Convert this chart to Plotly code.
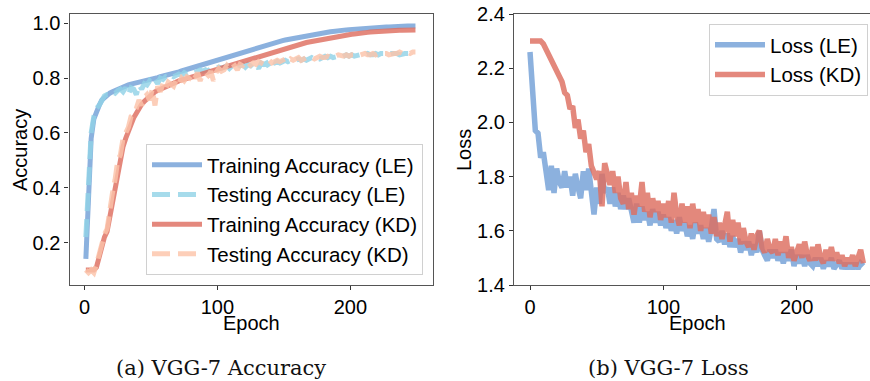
import plotly.graph_objects as go

# ---------------- data ----------------
acc_epochs = list(range(1, 251, 2))
train_le = [0.14, 0.40, 0.58, 0.65, 0.68, 0.70, 0.72, 0.73, 0.74, 0.745,
            0.75, 0.755, 0.76, 0.765, 0.77, 0.772, 0.775, 0.778, 0.78, 0.783,
            0.785, 0.788, 0.79, 0.792, 0.795, 0.797, 0.80, 0.802, 0.805, 0.807,
            0.81, 0.812, 0.815, 0.818, 0.82, 0.823, 0.826, 0.829, 0.832, 0.835,
            0.838, 0.841, 0.844, 0.847, 0.85, 0.853, 0.856, 0.86, 0.863, 0.866,
            0.869, 0.872, 0.875, 0.878, 0.881, 0.884, 0.887, 0.89, 0.893, 0.896,
            0.899, 0.902, 0.905, 0.908, 0.911, 0.913, 0.916, 0.919, 0.922, 0.924,
            0.927, 0.929, 0.932, 0.934, 0.937, 0.939, 0.941, 0.943, 0.945, 0.947,
            0.949, 0.951, 0.953, 0.955, 0.957, 0.959, 0.96, 0.962, 0.963, 0.965,
            0.966, 0.968, 0.969, 0.97, 0.972, 0.973, 0.974, 0.975, 0.976, 0.977,
            0.978, 0.979, 0.98, 0.981, 0.981, 0.982, 0.983, 0.983, 0.984, 0.985,
            0.985, 0.986, 0.986, 0.987, 0.987, 0.988, 0.988, 0.988, 0.989, 0.989,
            0.989, 0.99, 0.99, 0.99, 0.99]
test_le = [0.22, 0.45, 0.60, 0.66, 0.69, 0.70, 0.72, 0.735, 0.74, 0.74,
           0.75, 0.745, 0.755, 0.76, 0.75, 0.765, 0.74, 0.765, 0.76, 0.74,
           0.775, 0.76, 0.78, 0.775, 0.79, 0.78, 0.795, 0.78, 0.80, 0.795,
           0.805, 0.80, 0.81, 0.805, 0.81, 0.815, 0.81, 0.82, 0.815, 0.82,
           0.825, 0.82, 0.825, 0.83, 0.825, 0.83, 0.825, 0.835, 0.83, 0.835,
           0.84, 0.835, 0.84, 0.845, 0.835, 0.845, 0.84, 0.85, 0.845, 0.85,
           0.84, 0.85, 0.845, 0.855, 0.85, 0.835, 0.855, 0.85, 0.855, 0.84,
           0.86, 0.855, 0.86, 0.855, 0.86, 0.865, 0.86, 0.865, 0.86, 0.865,
           0.87, 0.865, 0.87, 0.865, 0.87, 0.875, 0.87, 0.875, 0.87, 0.875,
           0.88, 0.875, 0.88, 0.875, 0.88, 0.88, 0.875, 0.88, 0.885, 0.88,
           0.885, 0.88, 0.885, 0.885, 0.88, 0.885, 0.89, 0.885, 0.885, 0.89,
           0.885, 0.89, 0.89, 0.885, 0.89, 0.89, 0.89, 0.89, 0.885, 0.89,
           0.89, 0.89, 0.89, 0.89, 0.89]
train_kd = [0.10, 0.10, 0.10, 0.10, 0.11, 0.15, 0.19, 0.22, 0.24, 0.29,
            0.34, 0.40, 0.46, 0.51, 0.55, 0.58, 0.61, 0.63, 0.655, 0.675,
            0.69, 0.705, 0.715, 0.725, 0.735, 0.745, 0.75, 0.755, 0.76, 0.765,
            0.77, 0.775, 0.78, 0.783, 0.787, 0.79, 0.793, 0.796, 0.799, 0.802,
            0.805, 0.808, 0.811, 0.814, 0.817, 0.82, 0.823, 0.826, 0.829, 0.832,
            0.835, 0.838, 0.841, 0.844, 0.847, 0.85, 0.853, 0.856, 0.859, 0.862,
            0.865, 0.868, 0.871, 0.874, 0.877, 0.88, 0.883, 0.886, 0.889, 0.892,
            0.895, 0.898, 0.901, 0.904, 0.907, 0.909, 0.912, 0.915, 0.917, 0.92,
            0.922, 0.925, 0.927, 0.93, 0.932, 0.934, 0.936, 0.938, 0.94, 0.942,
            0.944, 0.946, 0.948, 0.95, 0.951, 0.953, 0.955, 0.956, 0.958, 0.959,
            0.96, 0.961, 0.963, 0.964, 0.965, 0.966, 0.967, 0.968, 0.969, 0.97,
            0.97, 0.971, 0.972, 0.972, 0.973, 0.973, 0.974, 0.974, 0.975, 0.975,
            0.975, 0.976, 0.976, 0.976, 0.976]
test_kd = [0.10, 0.09, 0.10, 0.09, 0.12, 0.16, 0.20, 0.23, 0.25, 0.33,
           0.38, 0.43, 0.50, 0.52, 0.58, 0.60, 0.62, 0.66, 0.67, 0.69,
           0.72, 0.70, 0.73, 0.74, 0.72, 0.76, 0.70, 0.77, 0.75, 0.78,
           0.76, 0.785, 0.78, 0.77, 0.795, 0.78, 0.80, 0.79, 0.805, 0.80,
           0.815, 0.80, 0.82, 0.79, 0.815, 0.82, 0.81, 0.825, 0.79, 0.82,
           0.835, 0.825, 0.83, 0.845, 0.83, 0.84, 0.845, 0.83, 0.85, 0.845,
           0.855, 0.84, 0.85, 0.855, 0.85, 0.86, 0.855, 0.85, 0.86, 0.865,
           0.855, 0.86, 0.865, 0.86, 0.865, 0.87, 0.86, 0.87, 0.865, 0.87,
           0.875, 0.865, 0.87, 0.875, 0.87, 0.875, 0.87, 0.875, 0.88, 0.875,
           0.875, 0.88, 0.875, 0.88, 0.88, 0.885, 0.88, 0.88, 0.885, 0.88,
           0.885, 0.885, 0.88, 0.885, 0.885, 0.89, 0.885, 0.885, 0.89, 0.885,
           0.89, 0.89, 0.89, 0.89, 0.885, 0.89, 0.89, 0.89, 0.895, 0.89,
           0.89, 0.895, 0.89, 0.895, 0.895]

loss_epochs = list(range(0, 251, 2))
loss_le = [2.26, 2.08, 1.97, 1.96, 1.87, 1.89, 1.83, 1.75, 1.84, 1.74,
           1.83, 1.78, 1.76, 1.82, 1.76, 1.80, 1.73, 1.81, 1.76, 1.72,
           1.82, 1.75, 1.83, 1.73, 1.66, 1.76, 1.70, 1.81, 1.74, 1.76,
           1.70, 1.76, 1.69, 1.74, 1.68, 1.73, 1.68, 1.72, 1.66, 1.63,
           1.70, 1.63, 1.69, 1.64, 1.67, 1.62, 1.68, 1.63, 1.67, 1.62,
           1.66, 1.61, 1.65, 1.60, 1.64, 1.59, 1.65, 1.60, 1.63, 1.58,
           1.62, 1.57, 1.63, 1.59, 1.62, 1.57, 1.61, 1.56, 1.61, 1.68,
           1.57, 1.56, 1.60, 1.55, 1.59, 1.54, 1.58, 1.54, 1.57, 1.52,
           1.56, 1.53, 1.56, 1.51, 1.55, 1.52, 1.60, 1.53, 1.51, 1.49,
           1.53, 1.50, 1.53, 1.49, 1.52, 1.48, 1.52, 1.49, 1.53, 1.47,
           1.51, 1.48, 1.51, 1.47, 1.51, 1.48, 1.47, 1.50, 1.47, 1.50,
           1.46, 1.49, 1.47, 1.50, 1.46, 1.48, 1.49, 1.46, 1.48, 1.46,
           1.48, 1.46, 1.48, 1.46, 1.48, 1.47]
loss_kd = [2.30, 2.30, 2.30, 2.30, 2.30, 2.29, 2.27, 2.26, 2.23, 2.22,
           2.19, 2.17, 2.15, 2.11, 2.10, 2.05, 2.06, 1.98, 2.01, 1.94,
           1.97, 1.89, 1.92, 1.84, 1.81, 1.79, 1.82, 1.69, 1.85, 1.80,
           1.77, 1.82, 1.74, 1.80, 1.72, 1.70, 1.78, 1.68, 1.74, 1.66,
           1.73, 1.69, 1.78, 1.67, 1.74, 1.65, 1.72, 1.67, 1.71, 1.64,
           1.70, 1.65, 1.71, 1.63, 1.74, 1.66, 1.62, 1.70, 1.63, 1.69,
           1.61, 1.70, 1.63, 1.68, 1.60, 1.67, 1.61, 1.66, 1.59, 1.65,
           1.58, 1.63, 1.57, 1.62, 1.67, 1.56, 1.64, 1.58, 1.63, 1.55,
           1.61, 1.56, 1.54, 1.59, 1.53, 1.58, 1.60, 1.54, 1.52, 1.57,
           1.53, 1.52, 1.57, 1.51, 1.56, 1.52, 1.58, 1.50, 1.54, 1.49,
           1.53, 1.55, 1.50, 1.56, 1.51, 1.49, 1.54, 1.49, 1.55, 1.50,
           1.48, 1.53, 1.49, 1.54, 1.49, 1.52, 1.48, 1.51, 1.47, 1.50,
           1.48, 1.51, 1.47, 1.50, 1.53, 1.48]

acc_ticks = [0.2, 0.4, 0.6, 0.8, 1.0]
loss_ticks = [1.4, 1.6, 1.8, 2.0, 2.2, 2.4]
epoch_ticks = [0, 100, 200]

# ---------------- style ----------------
C_LE = "#73A0D7"
C_LE_T = "#92D3E7"
C_KD = "#DE6E60"
C_KD_T = "#FCC4AA"
FONT = "Liberation Sans, Arial, sans-serif"
FS_TICK = 20
FS_LEG = 20.5
FS_TITLE = 20
W, H = 870, 381

fig = go.Figure()

def add(x, y, name, color, dash, xa, ya, legend, width):
    fig.add_trace(go.Scatter(
        x=x, y=y, name=name, mode="lines",
        line=dict(color=color, width=width, dash=dash),
        opacity=0.82, xaxis=xa, yaxis=ya, legend=legend))

add(acc_epochs, train_le, "Training Accuracy (LE)", C_LE, "solid", "x", "y", "legend", 5)
add(acc_epochs, test_le, "Testing Accuracy (LE)", C_LE_T, "18px,8px", "x", "y", "legend", 5)
add(acc_epochs, train_kd, "Training Accuracy (KD)", C_KD, "solid", "x", "y", "legend", 5)
add(acc_epochs, test_kd, "Testing Accuracy (KD)", C_KD_T, "18px,8px", "x", "y", "legend", 5)
add(loss_epochs, loss_le, "Loss (LE)", C_LE, "solid", "x2", "y2", "legend2", 5.5)
add(loss_epochs, loss_kd, "Loss (KD)", C_KD, "solid", "x2", "y2", "legend2", 5.5)

axis_common = dict(showline=True, linecolor="#555555", linewidth=1.2, mirror=True,
                   ticks="outside", ticklen=4, tickcolor="#333333", showgrid=False,
                   zeroline=False, automargin=False,
                   tickfont=dict(family=FONT, size=FS_TICK, color="black"))

def px_x(p):
    return p / W

def px_y(p):
    return 1 - p / H

leg_common = dict(bgcolor="rgba(255,255,255,0.85)", bordercolor="#d0d0d0", borderwidth=1,
                  font=dict(family=FONT, size=FS_LEG, color="black"),
                  itemwidth=50, traceorder="normal")

fig.update_layout(
    width=W, height=H, autosize=False,
    margin=dict(l=0, r=0, t=0, b=0, pad=0, autoexpand=False),
    plot_bgcolor="white", paper_bgcolor="white",
    xaxis=dict(domain=[px_x(69.5), px_x(433)], range=[-11.3, 262.2],
               tickvals=epoch_ticks, **axis_common),
    yaxis=dict(domain=[px_y(285), px_y(14)], range=[0.045, 1.034],
               tickvals=acc_ticks, tickformat=".1f", **axis_common),
    xaxis2=dict(domain=[px_x(514), 1.0], range=[-12, 255],
                tickvals=epoch_ticks, anchor="y2", **axis_common),
    yaxis2=dict(domain=[px_y(285), px_y(14)], range=[1.4, 2.4],
                tickvals=loss_ticks, tickformat=".1f", anchor="x2", **axis_common),
    legend=dict(x=px_x(423), y=px_y(275), xanchor="right", yanchor="bottom", **leg_common),
    legend2=dict(x=px_x(868), y=px_y(24), xanchor="right", yanchor="top", **leg_common),
    showlegend=True,
)

annos = [
    dict(text="Accuracy", x=px_x(20), y=px_y(150), textangle=-90),
    dict(text="Epoch", x=px_x(251), y=px_y(323)),
    dict(text="Loss", x=px_x(464), y=px_y(150), textangle=-90),
    dict(text="Epoch", x=px_x(697), y=px_y(323)),
]
for a in annos:
    fig.add_annotation(xref="paper", yref="paper", showarrow=False,
                       xanchor="center", yanchor="middle",
                       font=dict(family=FONT, size=FS_TITLE, color="black"), **a)

caps = [
    dict(text="(a) VGG-7 Accuracy", x=px_x(221), y=px_y(368)),
    dict(text="(b) VGG-7 Loss", x=px_x(668), y=px_y(368)),
]
for a in caps:
    fig.add_annotation(xref="paper", yref="paper", showarrow=False,
                       xanchor="center", yanchor="middle",
                       font=dict(family="DejaVu Serif, serif", size=21, color="#111111"), **a)

fig.write_html("out.html")
